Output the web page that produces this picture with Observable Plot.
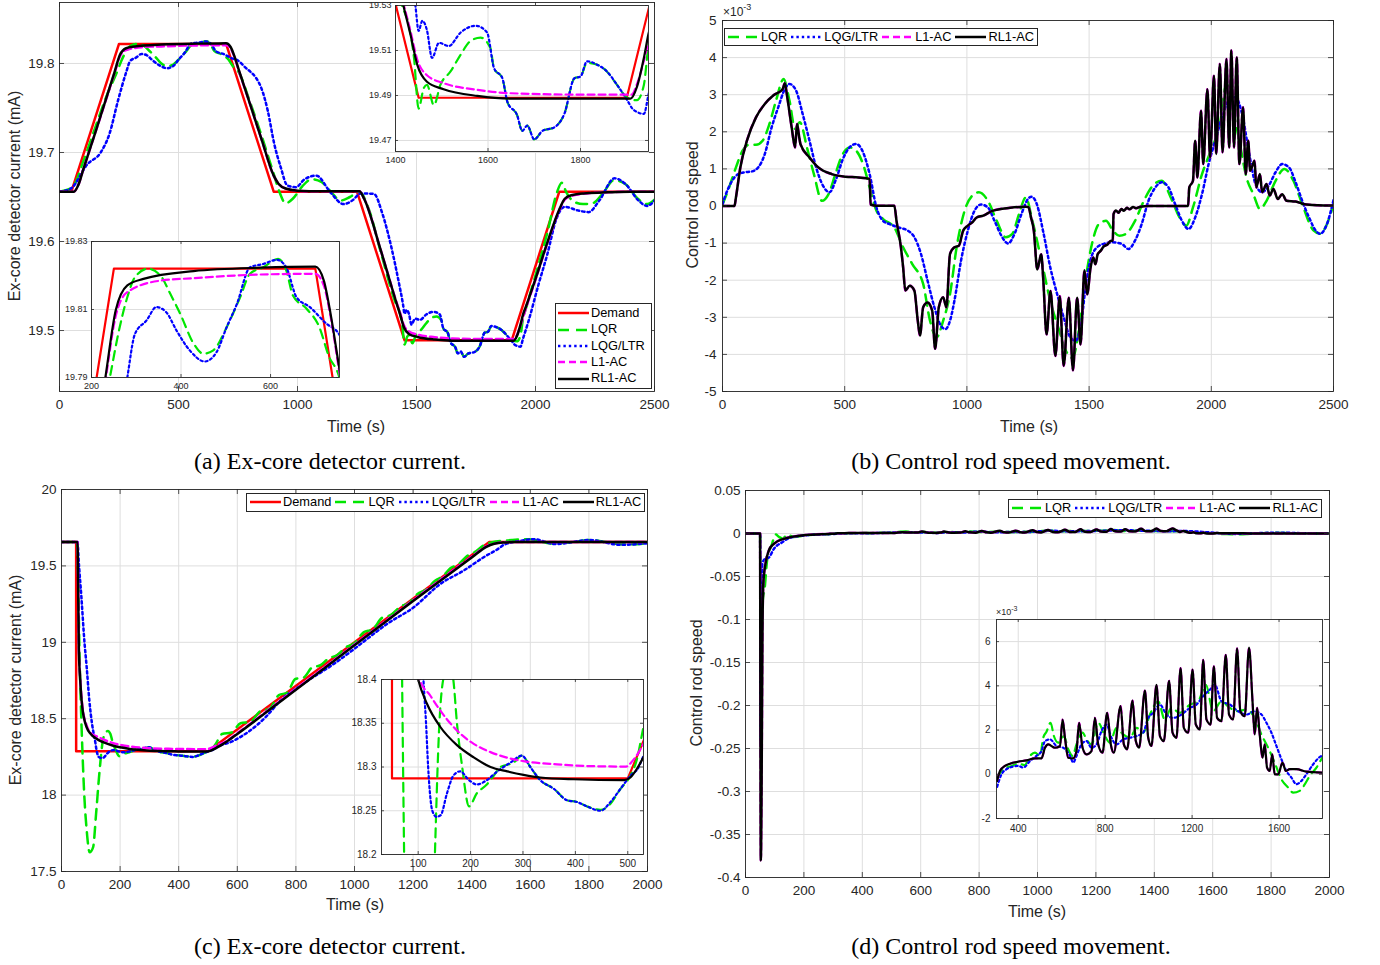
<!DOCTYPE html>
<html><head><meta charset="utf-8">
<script src="https://cdn.jsdelivr.net/npm/d3@7"></script>
<script src="https://cdn.jsdelivr.net/npm/@observablehq/plot@0.6"></script>
<style>
body{margin:0;background:#fff;}
#c{position:relative;width:1380px;height:965px;background:#fff;font-family:"Liberation Sans",Arial,sans-serif;color:#262626;overflow:hidden}
.cap{position:absolute;font-family:"Liberation Serif","Times New Roman",serif;font-size:24px;color:#000;transform:translate(-50%,-50%);white-space:nowrap}
.lab{position:absolute;font-size:16px;color:#262626;white-space:nowrap;transform:translate(-50%,-50%)}
.ylab{transform:translate(-50%,-50%) rotate(-90deg)}
.leg{position:absolute;background:#fff;border:1px solid #262626;font-size:12.8px;color:#000;box-sizing:border-box;line-height:1}
.exp{position:absolute;color:#262626;white-space:nowrap}
</style></head><body><div id="c"></div><script>
// ---------------- Panel (a): ex-core detector current (mA) ----------------
const aDemand = [[0,19.656],[50,19.656],[250,19.822],[700,19.822],[900,19.656],[1250,19.656],[1450,19.489],[1900,19.489],[2100,19.656],[2500,19.656]];
const aLQR = [[0,19.656],[30,19.658],[55,19.661],[100,19.69],[150,19.728],[200,19.765],[241,19.79],[260,19.803],[280,19.8136],[297,19.8195],[326,19.822],[354,19.82],[376,19.8146],[398,19.8088],[428,19.80],[450,19.797],[472,19.798],[502,19.8048],[532,19.8136],[554,19.8205],[584,19.8224],[617,19.8249],[635,19.8215],[650,19.8141],[680,19.8103],[709,19.8048],[731,19.796],[750,19.7915],[800,19.757],[850,19.718],[900,19.676],[925,19.655],[950,19.643],[980,19.648],[1020,19.662],[1060,19.670],[1100,19.667],[1140,19.656],[1180,19.646],[1220,19.650],[1260,19.656],[1300,19.636],[1350,19.588],[1414,19.53],[1429,19.521],[1440,19.5067],[1450,19.4842],[1461,19.4932],[1468,19.4947],[1483,19.4857],[1497,19.4947],[1519,19.5007],[1541,19.5082],[1562,19.5142],[1584,19.5157],[1605,19.5112],[1613,19.502],[1631,19.4977],[1642,19.4871],[1663,19.4812],[1674,19.4743],[1685,19.4766],[1700,19.4705],[1718,19.4743],[1743,19.4758],[1765,19.4818],[1787,19.4977],[1800,19.4984],[1814,19.5045],[1836,19.5037],[1857,19.5007],[1879,19.4947],[1901,19.489],[1922,19.4879],[1937,19.4947],[1947,19.5127],[1960,19.525],[2000,19.562],[2050,19.61],[2090,19.655],[2110,19.666],[2130,19.655],[2160,19.645],[2200,19.642],[2240,19.643],[2280,19.653],[2330,19.669],[2380,19.664],[2430,19.648],[2470,19.642],[2500,19.647]];
const aLQG = [[0,19.656],[45,19.659],[118,19.687],[173,19.70],[210,19.721],[246,19.7585],[280,19.79],[297,19.8028],[323,19.8068],[345,19.8107],[367,19.8092],[390,19.8038],[420,19.7979],[453,19.7947],[479,19.7974],[502,19.8048],[525,19.8117],[554,19.8224],[584,19.8234],[614,19.8246],[635,19.8224],[658,19.8136],[688,19.8107],[725,19.8058],[750,19.8033],[775,19.797],[847,19.773],[875,19.747],[902,19.71],[930,19.683],[957,19.663],[993,19.661],[1030,19.67],[1079,19.674],[1139,19.655],[1193,19.642],[1230,19.646],[1266,19.654],[1321,19.6535],[1357,19.631],[1394,19.594],[1425,19.555],[1443,19.53],[1450,19.5187],[1458,19.5232],[1468,19.519],[1479,19.5067],[1494,19.5134],[1515,19.512],[1541,19.518],[1573,19.521],[1598,19.518],[1613,19.5022],[1631,19.4977],[1642,19.4871],[1663,19.4812],[1674,19.4743],[1685,19.4766],[1700,19.4705],[1718,19.4743],[1743,19.4758],[1765,19.4818],[1787,19.4977],[1800,19.4984],[1814,19.5052],[1836,19.5037],[1857,19.5007],[1879,19.4947],[1901,19.4879],[1912,19.4842],[1922,19.4827],[1937,19.4818],[1947,19.4904],[1970,19.51],[2013,19.552],[2050,19.586],[2086,19.624],[2123,19.639],[2177,19.635],[2223,19.633],[2268,19.646],[2332,19.671],[2378,19.6646],[2433,19.646],[2469,19.64],[2500,19.646]];
const aL1 = [[0,19.656],[60,19.656],[80,19.664],[100,19.681],[150,19.722],[200,19.763],[231,19.789],[254,19.808],[280,19.8151],[354,19.8185],[428,19.8192],[578,19.8203],[700,19.8205],[719,19.817],[734,19.808],[752,19.793],[800,19.755],[850,19.714],[900,19.674],[920,19.665],[950,19.6595],[1000,19.657],[1050,19.6565],[1260,19.6565],[1280,19.648],[1350,19.59],[1417,19.531],[1432,19.519],[1447,19.506],[1468,19.499],[1504,19.4955],[1577,19.4925],[1649,19.491],[1800,19.4904],[1910,19.4904],[1922,19.495],[1937,19.5055],[1947,19.514],[1960,19.525],[2000,19.557],[2050,19.598],[2100,19.635],[2123,19.647],[2150,19.651],[2214,19.654],[2305,19.6553],[2400,19.656],[2500,19.656]];
const aRL1 = [[0,19.656],[60,19.656],[80,19.664],[100,19.681],[150,19.722],[200,19.764],[231,19.79],[254,19.8097],[280,19.8171],[316,19.819],[428,19.8213],[578,19.8223],[700,19.8226],[719,19.8185],[734,19.8088],[752,19.794],[800,19.755],[850,19.714],[900,19.674],[920,19.665],[950,19.6595],[1000,19.657],[1050,19.6565],[1260,19.6565],[1280,19.648],[1350,19.59],[1417,19.53],[1432,19.5174],[1447,19.5037],[1468,19.4961],[1504,19.4928],[1577,19.4898],[1649,19.4886],[1908,19.4886],[1922,19.4938],[1937,19.5067],[1947,19.5174],[1960,19.527],[2000,19.558],[2050,19.599],[2100,19.636],[2123,19.648],[2150,19.652],[2214,19.6542],[2305,19.6553],[2400,19.656],[2500,19.656]];

// ---------------- Panel (b): control rod speed (x1e-3) ----------------
const bLQR = [[0,0.04],[27,0.50],[55,1.04],[82,1.49],[109,1.65],[137,1.65],[164,1.76],[192,2.21],[219,2.84],[250,3.42],[274,2.84],[297,2.08],[316,2.26],[347,1.54],[374,0.86],[407,0.14],[434,0.32],[462,0.86],[489,1.36],[520,1.58],[547,1.49],[575,1.13],[602,0.50],[630,-0.13],[657,-0.35],[703,-0.58],[739,-1.11],[776,-1.56],[821,-2.10],[849,-3.09],[876,-3.54],[903,-3.09],[931,-2.37],[958,-1.11],[995,-0.04],[1022,0.28],[1049,0.37],[1086,0.14],[1122,-0.40],[1159,-0.84],[1186,-0.75],[1213,-0.22],[1241,0.23],[1268,-0.40],[1305,-1.47],[1341,-2.55],[1378,-3.36],[1405,-3.90],[1432,-4.10],[1460,-3.27],[1487,-1.92],[1515,-0.93],[1542,-0.47],[1569,-0.40],[1597,-0.66],[1624,-0.80],[1651,-0.75],[1688,-0.40],[1724,0.14],[1761,0.55],[1797,0.68],[1834,0.23],[1870,-0.31],[1898,-0.53],[1925,-0.04],[1962,0.86],[1998,1.49],[2035,2.21],[2062,3.29],[2089,2.57],[2117,1.67],[2144,0.77],[2172,0.32],[2199,-0.08],[2226,0.14],[2263,0.68],[2299,1.00],[2336,0.68],[2372,0.05],[2418,-0.66],[2445,-0.75],[2473,-0.49],[2500,0.05]];
const bLQG = [[0,0.05],[9,0.23],[36,0.64],[64,0.86],[91,0.91],[119,0.93],[146,1.04],[173,1.40],[201,2.12],[228,2.66],[255,3.15],[274,3.29],[301,3.11],[328,2.48],[356,1.76],[383,1.04],[411,0.55],[438,0.37],[465,0.73],[493,1.27],[520,1.58],[547,1.67],[575,1.45],[602,0.86],[630,-0.04],[657,-0.40],[684,-0.49],[721,-0.58],[757,-0.66],[785,-0.84],[812,-1.29],[839,-2.01],[867,-2.73],[894,-3.23],[912,-3.32],[931,-3.09],[949,-2.55],[976,-1.47],[1004,-0.66],[1031,-0.13],[1058,0.04],[1086,-0.04],[1113,-0.40],[1141,-0.80],[1168,-1.01],[1195,-0.75],[1223,-0.22],[1250,0.19],[1265,0.25],[1286,0.05],[1314,-0.75],[1341,-1.65],[1369,-2.37],[1396,-3.0],[1423,-3.54],[1445,-3.63],[1469,-3.09],[1487,-2.10],[1505,-1.47],[1533,-1.11],[1560,-1.02],[1597,-0.98],[1633,-1.02],[1661,-1.16],[1688,-0.93],[1715,-0.49],[1743,0.14],[1770,0.49],[1797,0.64],[1825,0.50],[1852,0.05],[1880,-0.40],[1907,-0.62],[1934,-0.31],[1962,0.32],[1989,1.13],[2016,1.76],[2044,2.39],[2071,2.84],[2099,2.93],[2126,2.48],[2153,1.49],[2181,0.59],[2208,0.37],[2235,0.55],[2263,0.91],[2290,1.13],[2318,1.04],[2345,0.64],[2372,0.14],[2400,-0.31],[2427,-0.66],[2445,-0.75],[2473,-0.49],[2500,0.16]];
const bRL1 = [[0,0],[49,0],[55,0.23],[73,1.04],[100,1.76],[137,2.39],[173,2.75],[210,2.99],[246,3.15],[255,3.31],[265,2.93],[283,2.12],[297,1.58],[305,2.21],[312,1.94],[319,1.67],[356,1.31],[392,1.04],[447,0.86],[502,0.79],[557,0.77],[602,0.73],[606,0.04],[630,0.01],[703,0.01],[712,-0.4],[730,-1.11],[739,-1.65],[748,-2.28],[766,-2.15],[785,-2.28],[799,-3.09],[808,-3.49],[821,-2.73],[839,-2.60],[858,-2.82],[870,-3.85],[885,-2.73],[903,-2.46],[916,-2.73],[931,-1.29],[949,-1.11],[967,-1.07],[985,-0.66],[1004,-0.53],[1022,-0.44],[1040,-0.31],[1067,-0.26],[1104,-0.13],[1177,-0.05],[1241,-0.02],[1252,-0.03],[1262,-0.3],[1274,-0.67],[1288,-1.71],[1304,-1.30],[1312,-1.93],[1326,-3.46],[1342,-2.29],[1362,-4.04],[1380,-2.43],[1396,-4.31],[1417,-2.47],[1434,-4.43],[1451,-2.47],[1465,-3.73],[1481,-1.73],[1492,-2.38],[1506,-1.66],[1517,-1.39],[1526,-1.57],[1535,-1.30],[1547,-1.21],[1560,-1.09],[1576,-1.03],[1588,-0.94],[1597,-0.93],[1600,-0.22],[1610,-0.12],[1620,-0.18],[1632,-0.08],[1642,-0.13],[1655,-0.05],[1665,-0.09],[1680,-0.03],[1692,-0.06],[1710,-0.02],[1743,0],[1905,0],[1910,0.5],[1925,0.68],[1934,1.76],[1943,0.77],[1958,2.57],[1967,1.13],[1984,3.15],[1995,1.31],[2011,3.51],[2020,1.40],[2035,3.83],[2046,1.45],[2062,3.96],[2073,1.58],[2082,4.19],[2093,1.58],[2104,4.0],[2115,1.13],[2130,2.66],[2141,0.86],[2151,1.76],[2159,0.95],[2177,1.22],[2184,0.5],[2199,0.86],[2208,0.37],[2226,0.59],[2239,0.28],[2254,0.46],[2272,0.19],[2290,0.32],[2308,0.14],[2345,0.12],[2381,0.05],[2436,0.02],[2500,0.01]];
const bL1 = bRL1; // L1-AC lies under RL1-AC in this panel

// ---------------- Panel (c): ex-core detector current (mA) ----------------
const cDemand = [[0,19.656],[50,19.656],[50,18.287],[500,18.287],[1460,19.656],[2000,19.656]];
const cLQR = [[0,19.656],[53,19.656],[57,19.4],[61,18.97],[66,18.6],[71,18.31],[78,17.99],[86,17.77],[96,17.626],[108,17.66],[118,17.877],[130,18.16],[141,18.356],[151,18.41],[158,18.42],[167,18.40],[174,18.35],[184,18.30],[197,18.255],[212,18.27],[231,18.28],[244,18.29],[257,18.30],[282,18.305],[298,18.313],[314,18.30],[333,18.285],[359,18.275],[384,18.262],[403,18.26],[422,18.255],[448,18.251],[467,18.258],[486,18.275],[505,18.29],[518,18.31],[528,18.34],[548,18.40],[580,18.41],[611,18.47],[645,18.48],[679,18.55],[710,18.565],[742,18.655],[770,18.67],[798,18.76],[827,18.77],[855,18.835],[884,18.85],[912,18.895],[940,18.915],[969,18.965],[1000,18.995],[1031,19.065],[1062,19.085],[1094,19.16],[1125,19.18],[1157,19.235],[1185,19.255],[1214,19.315],[1245,19.345],[1276,19.405],[1300,19.43],[1327,19.485],[1355,19.51],[1384,19.565],[1410,19.59],[1441,19.635],[1470,19.655],[1537,19.669],[1596,19.675],[1670,19.647],[1740,19.655],[1803,19.669],[1921,19.64],[2000,19.648]];
const cLQG = [[0,19.656],[55,19.656],[58,19.555],[68,19.294],[78,19.01],[86,18.836],[95,18.62],[104,18.47],[110,18.40],[115,18.35],[119,18.30],[127,18.25],[135,18.243],[143,18.245],[155,18.27],[167,18.29],[180,18.295],[197,18.285],[212,18.28],[231,18.285],[251,18.295],[276,18.305],[298,18.313],[314,18.30],[333,18.285],[359,18.275],[384,18.262],[403,18.26],[422,18.255],[448,18.25],[467,18.26],[486,18.275],[505,18.29],[521,18.30],[528,18.31],[588,18.356],[696,18.509],[747,18.618],[815,18.716],[929,18.858],[992,18.946],[1043,19.022],[1111,19.12],[1202,19.229],[1293,19.382],[1373,19.47],[1441,19.557],[1498,19.622],[1507,19.635],[1566,19.664],[1611,19.675],[1685,19.643],[1803,19.669],[1907,19.638],[1996,19.647]];
const cL1 = [[0,19.656],[55,19.656],[56,19.52],[59,18.98],[64,18.76],[71,18.585],[86,18.455],[103,18.40],[123,18.3817],[142,18.3646],[174,18.3417],[206,18.3265],[238,18.317],[270,18.3106],[301,18.3067],[365,18.303],[429,18.301],[497,18.3005],[509,18.307],[521,18.317],[528,18.3246],[560,18.35],[600,18.405],[800,18.695],[1000,18.985],[1200,19.275],[1400,19.56],[1450,19.628],[1477,19.646],[1507,19.654],[1550,19.656],[2000,19.656]];
const cRL1 = [[0,19.656],[55,19.656],[56,19.512],[59,18.967],[64,18.749],[71,18.574],[86,18.443],[100,18.40],[117,18.372],[142,18.346],[174,18.325],[206,18.311],[238,18.300],[270,18.295],[301,18.291],[333,18.288],[397,18.286],[493,18.285],[505,18.288],[518,18.2985],[528,18.309],[560,18.345],[600,18.40],[800,18.69],[1000,18.98],[1200,19.27],[1400,19.555],[1450,19.625],[1477,19.645],[1507,19.653],[1550,19.656],[2000,19.656]];

// ---------------- Panel (d): control rod speed ----------------
const dEarlyLQR = [[0,0],[50,0],[52,-0.2],[56,-0.1],[60,-0.075],[65,-0.066],[74,-0.031],[91,-0.012],[103,-0.001],[115,-0.004],[128,-0.006],[143,-0.001],[165,-0.004],[211,-0.002],[290,-0.0005]];
const dEarlyLQG = [[0,0],[50,0],[52,-0.24],[55,-0.08],[58,-0.035],[65,-0.03],[80,-0.028],[97,-0.018],[108,-0.014],[122,-0.011],[145,-0.006],[180,-0.003],[250,-0.0012],[290,-0.0007]];
const dEarlyRL1 = [[0,0],[50,0],[51,-0.2],[52.5,-0.38],[55,-0.30],[58,-0.12],[61,-0.058],[68.5,-0.035],[80,-0.0198],[97,-0.012],[131,-0.0062],[211,-0.0016],[290,-0.0004]];
// zoomed part, in units of 1e-3
const dInLQR = [[303,-0.15],[331,0.23],[362,0.35],[400,0.48],[430,0.42],[454,0.83],[477,0.98],[500,0.83],[515,1.65],[530,1.92],[549,2.33],[564,1.73],[584,1.43],[610,1.73],[630,1.13],[650,0.83],[668,1.35],[696,1.88],[714,1.58],[737,1.35],[768,2.33],[799,1.73],[822,1.43],[852,2.1],[883,1.8],[914,1.65],[945,2.1],[975,1.88],[1006,2.7],[1044,3.3],[1074,2.48],[1105,3.0],[1144,2.78],[1190,3.15],[1228,3.3],[1263,4.05],[1297,2.85],[1335,3.3],[1374,3.0],[1412,2.85],[1450,2.93],[1488,2.55],[1519,1.8],[1550,1.2],[1577,0.6],[1611,-0.23],[1642,-0.6],[1665,-0.83],[1695,-0.75],[1719,-0.45],[1741,-0.08],[1772,0.3],[1803,0.83]];
const dInLQG = [[303,-0.57],[323,0],[346,0.23],[369,0.33],[400,0.38],[423,0.3],[454,0.6],[484,0.83],[507,1.05],[523,1.5],[546,1.58],[576,1.28],[607,1.2],[638,0.83],[653,0.53],[668,0.83],[691,1.35],[714,1.5],[737,1.2],[760,1.35],[783,1.95],[806,2.25],[829,1.65],[852,1.35],[883,1.58],[914,1.65],[945,1.73],[975,1.88],[998,2.55],[1021,2.78],[1052,3.15],[1082,2.7],[1113,2.55],[1151,2.7],[1190,3.0],[1220,3.15],[1251,3.53],[1282,3.83],[1305,4.05],[1335,3.3],[1374,3.15],[1412,2.85],[1450,2.7],[1488,2.85],[1519,2.7],[1542,2.33],[1565,1.88],[1588,1.28],[1611,0.68],[1634,0.15],[1657,-0.15],[1680,-0.45],[1703,-0.3],[1726,0],[1757,0.45],[1787,0.78],[1803,0.87]];
const dInRL1 = [[303,-0.3],[316,0.15],[339,0.375],[362,0.48],[400,0.57],[438,0.63],[477,0.72],[507,0.72],[523,1.2],[538,1.35],[569,1.2],[592,1.27],[604,2.47],[615,1.65],[630,0.75],[653,0.72],[668,1.05],[680,2.33],[696,1.2],[714,0.9],[737,1.05],[753,2.55],[768,1.35],[788,0.975],[809,2.78],[826,1.35],[840,0.975],[871,3.08],[886,1.35],[901,1.13],[926,3.33],[941,1.5],[956,1.2],[983,3.78],[998,1.65],[1013,1.28],[1036,4.05],[1052,1.73],[1070,1.5],[1094,4.23],[1110,1.88],[1128,1.65],[1147,4.8],[1162,2.1],[1182,1.88],[1202,4.73],[1217,2.25],[1236,2.03],[1251,5.18],[1266,2.48],[1285,2.25],[1300,4.88],[1315,2.55],[1335,2.4],[1355,5.4],[1370,2.7],[1389,2.48],[1407,5.7],[1422,2.85],[1442,2.63],[1462,5.73],[1478,3.3],[1488,1.8],[1499,3.0],[1511,1.8],[1524,0.75],[1534,1.35],[1545,0.3],[1557,0.15],[1569,0.9],[1580,0],[1596,0],[1616,0.53],[1631,0.15],[1649,0.23],[1680,0.23],[1726,0.12],[1803,0.075]];
const dTailLQR = [[1850,0.0005],[1900,0.0002],[2000,0]];
const dTailLQG = [[1850,0.0008],[1900,0.0004],[2000,0]];
const dTailRL1 = [[1850,0.0001],[2000,0]];

// tick values
const aXt = [0,500,1000,1500,2000,2500], aYt = [19.5,19.6,19.7,19.8];
const aTRxt = [1400,1600,1800], aTRyt = [19.47,19.49,19.51,19.53];
const aBLxt = [200,400,600], aBLyt = [19.79,19.81,19.83];
const bXt = [0,500,1000,1500,2000,2500], bYt = [-5,-4,-3,-2,-1,0,1,2,3,4,5];
const cXt = [0,200,400,600,800,1000,1200,1400,1600,1800,2000], cYt = [17.5,18,18.5,19,19.5,20];
const cInXt = [100,200,300,400,500], cInYt = [18.2,18.25,18.3,18.35,18.4];
const dXt = [0,200,400,600,800,1000,1200,1400,1600,1800,2000], dYt = [0.05,0,-0.05,-0.1,-0.15,-0.2,-0.25,-0.3,-0.35,-0.4];
const dInXt = [400,800,1200,1600], dInYt = [-2,0,2,4,6];

const names = {dem:"Demand", lqr:"LQR", lqg:"LQG/LTR", l1:"L1-AC", rl1:"RL1-AC"};
const colors = {dem:"#ff0000", lqr:"#00e600", lqg:"#0000ff", l1:"#ff00ff", rl1:"#000000"};
const dashMain = {dem:null, lqr:"11,7", lqg:"2.4,3", l1:"7,4", rl1:null};
const dashIn = {dem:null, lqr:"9,6", lqg:"2.2,2.8", l1:"7,4", rl1:null};

const sc = (arr, k) => arr.map(d => [d[0], d[1]*k]);
const dLQR = dEarlyLQR.concat(sc(dInLQR,1e-3), dTailLQR);
const dLQG = dEarlyLQG.concat(sc(dInLQG,1e-3), dTailLQG);
const dRL1 = dEarlyRL1.concat(sc(dInRL1,1e-3), dTailRL1);
const dL1 = dRL1;

const root = document.getElementById("c");

function makePlot(c) {
  const pw = c.W - c.ml - c.mr, ph = c.H - c.mt - c.mb;
  const dx = (c.xd[1]-c.xd[0])/pw*c.tl, dy = (c.yd[1]-c.yd[0])/ph*c.tl;
  const tk = {stroke:"#262626", strokeWidth:0.8};
  const marks = [];
  if (c.bg) marks.push(Plot.frame({fill:"white", stroke:null}));
  marks.push(Plot.gridX(c.xt, {stroke:"#dedede", strokeOpacity:1, strokeWidth:1}));
  marks.push(Plot.gridY(c.yt, {stroke:"#dedede", strokeOpacity:1, strokeWidth:1}));
  for (const s of c.series) {
    marks.push(Plot.line(s.data, {x:d=>d[0], y:d=>d[1], stroke:colors[s.k], strokeWidth:c.lw,
      strokeDasharray:(c.dash||dashMain)[s.k] || undefined, curve:s.curve || "monotone-x", clip:true}));
  }
  marks.push(Plot.ruleX(c.xt, {x:d=>d, y1:c.yd[0], y2:c.yd[0]+dy, ...tk}));
  marks.push(Plot.ruleX(c.xt, {x:d=>d, y1:c.yd[1], y2:c.yd[1]-dy, ...tk}));
  marks.push(Plot.ruleY(c.yt, {y:d=>d, x1:c.xd[0], x2:c.xd[0]+dx, ...tk}));
  marks.push(Plot.ruleY(c.yt, {y:d=>d, x1:c.xd[1], x2:c.xd[1]-dx, ...tk}));
  marks.push(Plot.frame({stroke:"#262626", strokeWidth:0.9}));
  marks.push(Plot.axisX({ticks:c.xt, tickSize:0, tickPadding:c.xpad, tickFormat:d=>String(d), label:null, fontSize:c.fs}));
  marks.push(Plot.axisY({ticks:c.yt, tickSize:0, tickPadding:c.ypad, tickFormat:d=>String(d), label:null, fontSize:c.fs}));
  const svg = Plot.plot({width:c.W, height:c.H, marginLeft:c.ml, marginRight:c.mr, marginTop:c.mt, marginBottom:c.mb,
    x:{domain:c.xd}, y:{domain:c.yd},
    style:{background:"transparent", overflow:"visible", fontFamily:"'Liberation Sans', Arial, sans-serif", color:"#262626", maxWidth:"none"},
    marks});
  svg.style.position = "absolute";
  svg.style.left = c.left + "px";
  svg.style.top = c.top + "px";
  root.appendChild(svg);
  return svg;
}

const ser = (k, data, curve) => ({k, data, curve});

// Panel (a)
makePlot({left:0, top:0, W:680, H:440, ml:59, mr:26, mt:2, mb:49, xd:[0,2500], yd:[19.4315,19.8685], xt:aXt, yt:aYt,
  fs:13.5, tl:5, xpad:8, ypad:5, lw:2.5,
  series:[ser("dem",aDemand,"linear"), ser("lqr",aLQR), ser("lqg",aLQG), ser("l1",aL1), ser("rl1",aRL1)]});
makePlot({left:355, top:1, W:297, H:166, ml:40, mr:4, mt:4, mb:16, xd:[1400,1947], yd:[19.4651,19.53], xt:aTRxt, yt:aTRyt,
  fs:9, tl:3, xpad:5, ypad:4, lw:2.2, bg:true, dash:dashIn,
  series:[ser("dem",aDemand,"linear"), ser("lqr",aLQR), ser("lqg",aLQG), ser("l1",aL1), ser("rl1",aRL1)]});
makePlot({left:51, top:237, W:292, H:156, ml:40, mr:4, mt:4, mb:16, xd:[200,754], yd:[19.79,19.83], xt:aBLxt, yt:aBLyt,
  fs:9, tl:3, xpad:5, ypad:4, lw:2.2, bg:true, dash:dashIn,
  series:[ser("dem",aDemand,"linear"), ser("lqr",aLQR), ser("lqg",aLQG), ser("l1",aL1), ser("rl1",aRL1)]});

// Panel (b)
makePlot({left:680, top:0, W:700, H:440, ml:42, mr:47, mt:20, mb:49, xd:[0,2500], yd:[-5,5], xt:bXt, yt:bYt,
  fs:13.5, tl:5, xpad:8, ypad:6, lw:2.5,
  series:[ser("lqr",bLQR), ser("lqg",bLQG), ser("l1",bL1), ser("rl1",bRL1)]});

// Panel (c)
makePlot({left:0, top:480, W:680, H:440, ml:61, mr:33, mt:9, mb:49, xd:[0,2000], yd:[17.5,20], xt:cXt, yt:cYt,
  fs:13.5, tl:5, xpad:8, ypad:5, lw:2.5,
  series:[ser("dem",cDemand,"linear"), ser("lqr",cLQR), ser("lqg",cLQG), ser("l1",cL1), ser("rl1",cRL1)]});
makePlot({left:341, top:675, W:306, H:195, ml:40, mr:4, mt:4, mb:16, xd:[30,530], yd:[18.2,18.4], xt:cInXt, yt:cInYt,
  fs:10, tl:3, xpad:5, ypad:5, lw:2.2, bg:true, dash:dashIn,
  series:[ser("dem",cDemand,"linear"), ser("lqr",cLQR), ser("lqg",cLQG), ser("l1",cL1), ser("rl1",cRL1)]});

// Panel (d)
makePlot({left:680, top:480, W:700, H:440, ml:65, mr:51, mt:10, mb:43, xd:[0,2000], yd:[-0.4,0.05], xt:dXt, yt:dYt,
  fs:13.5, tl:5, xpad:8, ypad:5, lw:2.5,
  series:[ser("lqr",dLQR), ser("lqg",dLQG), ser("l1",dL1), ser("rl1",dRL1)]});
makePlot({left:966, top:615, W:360, H:219, ml:30, mr:4, mt:4, mb:16, xd:[300,1800], yd:[-2,7], xt:dInXt, yt:dInYt,
  fs:10, tl:3, xpad:6, ypad:6, lw:2.2, bg:true, dash:dashIn,
  series:[ser("lqr",dInLQR), ser("lqg",dInLQG), ser("l1",dInRL1), ser("rl1",dInRL1)]});

// ---------- HTML text: labels, captions, exponents, legends ----------
function addDiv(cls, html, x, y, extra) {
  const d = document.createElement("div");
  d.className = cls; d.innerHTML = html;
  d.style.left = x + "px"; d.style.top = y + "px";
  if (extra) Object.assign(d.style, extra);
  root.appendChild(d); return d;
}
addDiv("lab ylab", "Ex-core detector current (mA)", 15, 196);
addDiv("lab", "Time (s)", 356, 427);
addDiv("lab ylab", "Control rod speed", 693, 205);
addDiv("lab", "Time (s)", 1029, 427);
addDiv("lab ylab", "Ex-core detector current (mA)", 16, 680);
addDiv("lab", "Time (s)", 355, 905);
addDiv("lab ylab", "Control rod speed", 697, 683);
addDiv("lab", "Time (s)", 1037, 912);
addDiv("cap", "(a) Ex-core detector current.", 330, 461);
addDiv("cap", "(b) Control rod speed movement.", 1011, 461);
addDiv("cap", "(c) Ex-core detector current.", 330, 946);
addDiv("cap", "(d) Control rod speed movement.", 1011, 946);
addDiv("exp", "&times;10<sup style='font-size:9px;vertical-align:6px'>-3</sup>", 723, 2, {fontSize:"12px"});
addDiv("exp", "&times;10<sup style='font-size:7px;vertical-align:4px'>-3</sup>", 996, 605, {fontSize:"9px"});

function sample(k, w) {
  const dash = dashMain[k] ? `stroke-dasharray="${dashMain[k]}"` : "";
  return `<svg width="${w}" height="8" style="display:block;flex:none"><line x1="0" y1="4" x2="${w}" y2="4" stroke="${colors[k]}" stroke-width="2.5" ${dash}/></svg>`;
}
function hLegend(x, y, h, keys) {
  const d = document.createElement("div");
  d.className = "leg";
  Object.assign(d.style, {left:x+"px", top:y+"px", height:h+"px", display:"flex", alignItems:"center", padding:"0 3px 0 3px"});
  keys.forEach((k, i) => {
    const it = document.createElement("span");
    Object.assign(it.style, {display:"inline-flex", alignItems:"center", marginRight: i < keys.length-1 ? "4px" : "0"});
    it.innerHTML = sample(k, 31) + `<span style="margin-left:2px">${names[k]}</span>`;
    d.appendChild(it);
  });
  root.appendChild(d);
}
function vLegend(x, y, w, h, keys) {
  const d = document.createElement("div");
  d.className = "leg";
  Object.assign(d.style, {left:x+"px", top:y+"px", width:w+"px", height:h+"px", padding:"1px 2px"});
  keys.forEach(k => {
    const it = document.createElement("div");
    Object.assign(it.style, {display:"flex", alignItems:"center", height:"16.4px"});
    it.innerHTML = sample(k, 31) + `<span style="margin-left:2px">${names[k]}</span>`;
    d.appendChild(it);
  });
  root.appendChild(d);
}
vLegend(555, 303, 97, 86, ["dem","lqr","lqg","l1","rl1"]);
hLegend(724, 28, 18, ["lqr","lqg","l1","rl1"]);
hLegend(246, 493, 19, ["dem","lqr","lqg","l1","rl1"]);
hLegend(1008, 499, 19, ["lqr","lqg","l1","rl1"]);
</script></body></html>
